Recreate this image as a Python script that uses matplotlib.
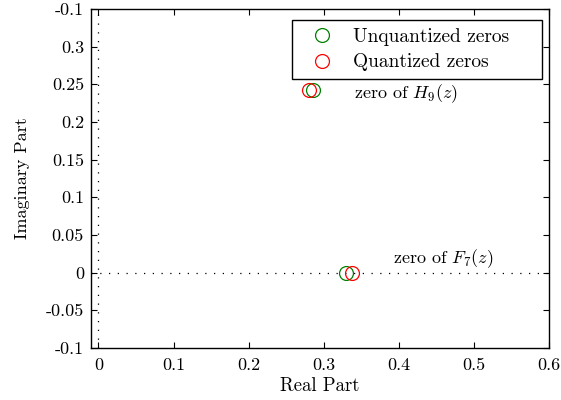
import numpy as np
import matplotlib
matplotlib.use('Agg')
import matplotlib.pyplot as plt

plt.rcParams['font.family'] = 'serif'
plt.rcParams['font.serif'] = ['cmr10', 'DejaVu Serif']
plt.rcParams['mathtext.fontset'] = 'cm'
plt.rcParams['axes.formatter.use_mathtext'] = True

# zeros
unq_re = [0.285, 0.330]
unq_im = [0.242, 0.0]
q_re = [0.280, 0.337]
q_im = [0.242, 0.0]

x_ticks = [0, 0.1, 0.2, 0.3, 0.4, 0.5, 0.6]
x_labels = ['0', '0.1', '0.2', '0.3', '0.4', '0.5', '0.6']
y_ticks = [-0.1, -0.05, 0, 0.05, 0.1, 0.15, 0.2, 0.25, 0.3, 0.35]
y_labels = ['-0.1', '-0.05', '0', '0.05', '0.1', '0.15', '0.2', '0.25', '0.3', '-0.1']

fig = plt.figure(figsize=(5.61, 4.0), dpi=100)
ax = fig.add_axes([0.162, 0.13, 0.817, 0.8475])

ax.axhline(0, color='black', linestyle=(0, (1, 6)), linewidth=0.9)
ax.axvline(0, color='black', linestyle=(0, (1, 6)), linewidth=0.9)

ax.plot(unq_re, unq_im, 'o', markerfacecolor='none', markeredgecolor='#008000',
        markersize=10, markeredgewidth=0.9, label='Unquantized zeros')
ax.plot(q_re, q_im, 'o', markerfacecolor='none', markeredgecolor='red',
        markersize=10, markeredgewidth=0.9, label='Quantized zeros')

ax.text(0.34, 0.238, r'zero of $H_9(z)$', fontsize=13, va='center')
ax.text(0.392, 0.018, r'zero of $F_7(z)$', fontsize=13, va='center')

ax.set_xlim(-0.01, 0.6)
ax.set_ylim(-0.1, 0.35)
ax.set_xticks(x_ticks)
ax.set_xticklabels(x_labels)
ax.set_yticks(y_ticks)
ax.set_yticklabels(y_labels)
ax.tick_params(direction='in', top=True, right=True, labelsize=13, length=4)
ax.tick_params(axis='x', pad=7)
ax.tick_params(axis='y', pad=5)
for s in ax.spines.values():
    s.set_linewidth(1.0)

ax.set_xlabel('Real Part', fontsize=13.5, labelpad=3)
ax.set_ylabel('Imaginary Part', fontsize=13, labelpad=11)

leg = ax.legend(loc='upper left', fontsize=14, fancybox=False, framealpha=1,
                edgecolor='black', bbox_to_anchor=(0.439, 0.0, 0.546, 0.968),
                mode='expand', borderaxespad=0, handletextpad=0.45,
                borderpad=0.4, labelspacing=0.4, handlelength=2.3)
leg.get_frame().set_linewidth(1.0)

plt.savefig('out.png', dpi=100)
